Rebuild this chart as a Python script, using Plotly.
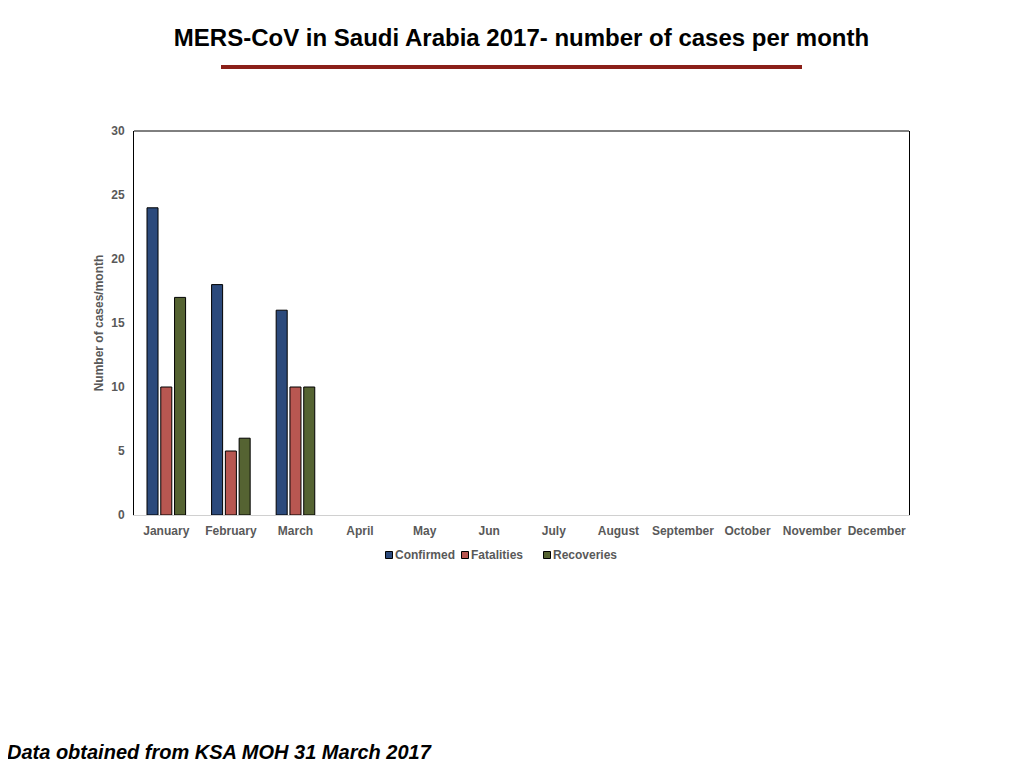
import plotly.graph_objects as go

months = ['January', 'February', 'March', 'April', 'May', 'Jun', 'July',
          'August', 'September', 'October', 'November', 'December']
confirmed = [24, 18, 16, None, None, None, None, None, None, None, None, None]
fatalities = [10, 5, 10, None, None, None, None, None, None, None, None, None]
recoveries = [17, 6, 10, None, None, None, None, None, None, None, None, None]

series = [('Confirmed', confirmed, '#2c4a7c'),
          ('Fatalities', fatalities, '#b85751'),
          ('Recoveries', recoveries, '#556332')]

# the page puts the figure 8px in from the top-left, so the plot box is
# placed in figure pixels: x 126..901, y 123..507
L, R, T, B = 126, 901, 123, 507
W, H = R - L, B - T


def px_x(x):
    return (x - L) / W


def px_y(y):
    return (B - y) / H


fig = go.Figure()
for name, vals, col in series:
    fig.add_bar(x=months, y=vals, name=name, showlegend=False,
                marker=dict(color=col, line=dict(color='black', width=1)))

font = 'Liberation Sans, Arial, sans-serif'
grey = '#595959'
tick_font = dict(family=font, size=12, color=grey, weight='bold')

fig.update_layout(
    width=1024, height=768,
    margin=dict(l=L, r=1024 - R, t=T, b=768 - B),
    paper_bgcolor='white', plot_bgcolor='white',
    barmode='group', bargap=0.36, bargroupgap=0.2,
    title=dict(text='<b>MERS-CoV in Saudi Arabia 2017- number of cases per month</b>',
               x=513.5 / 1024, xanchor='center', y=1 - 30 / 768, yanchor='middle',
               font=dict(family=font, size=24, color='black')),
)

fig.update_xaxes(showline=True, linecolor='#d0d0d0', linewidth=1,
                 ticks='', tickfont=tick_font, showgrid=False, ticklabelstandoff=5)
fig.update_yaxes(range=[0, 30], dtick=5, showgrid=False, zeroline=False,
                 showline=True, linecolor='black', linewidth=1, mirror=True,
                 ticks='', tickfont=tick_font, ticklabelstandoff=6,
                 title=dict(text='Number of cases/month', standoff=5,
                            font=dict(family=font, size=12, color=grey, weight='bold')))

# top border of the plot frame
fig.add_shape(type='line', xref='paper', yref='paper', x0=0, x1=1, y0=1, y1=1,
              line=dict(color='black', width=1))
# red rule under the title
fig.add_shape(type='line', xref='paper', yref='paper',
              x0=px_x(213), x1=px_x(794), y0=px_y(59), y1=px_y(59),
              line=dict(color='#8b2019', width=4))

# legend: small square + label for each series
leg_x = [381, 457, 539]
leg_y = 547
for (name, vals, col), lx in zip(series, leg_x):
    fig.add_shape(type='rect', xref='paper', yref='paper',
                  x0=px_x(lx - 3.5), x1=px_x(lx + 3.5),
                  y0=px_y(leg_y + 3.5), y1=px_y(leg_y - 3.5),
                  fillcolor=col, line=dict(color='black', width=1))
    fig.add_annotation(text='<b>' + name + '</b>', xref='paper', yref='paper',
                       x=px_x(lx + 5), xanchor='left', y=px_y(leg_y), yanchor='middle',
                       showarrow=False, borderpad=0,
                       font=dict(family=font, size=12, color=grey))

fig.add_annotation(text='<b><i>Data obtained from KSA MOH 31 March 2017</i></b>',
                   xref='paper', yref='paper', x=px_x(-2), xanchor='left',
                   y=px_y(744), yanchor='middle', showarrow=False, borderpad=0,
                   font=dict(family=font, size=20, color='black'))

fig.write_html('out.html')
